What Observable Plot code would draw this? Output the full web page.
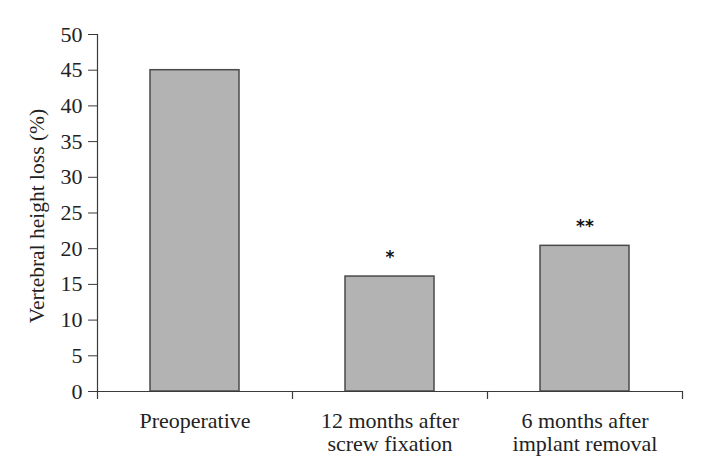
<!DOCTYPE html>
<html>
<head>
<meta charset="utf-8">
<script src="https://cdn.jsdelivr.net/npm/d3@7"></script>
<script src="https://cdn.jsdelivr.net/npm/@observablehq/plot@0.6"></script>
<style>
  html, body { margin: 0; padding: 0; background: #fff; }
</style>
</head>
<body>
<div id="chart"></div>
<script>
const categories = ["Preoperative", "12 months after\nscrew fixation", "6 months after\nimplant removal"];
const values = [45, 16.1, 20.4];
const significance = ["", "*", "**"];
const yTicks = [0, 5, 10, 15, 20, 25, 30, 35, 40, 45, 50];
const yLabel = "Vertebral height loss (%)";

const data = categories.map((c, i) => ({category: c, value: values[i], sig: significance[i]}));

const width = 710, height = 472;
const marginLeft = 97, marginRight = 28, marginTop = 34, marginBottom = 81;
const step = (width - marginLeft - marginRight) / categories.length;
const pad = 0.546;

const axisColor = "#3a3a3a";
const serif = "Liberation Serif, Times New Roman, serif";
const fs = 22;

const chart = Plot.plot({
  width, height, marginLeft, marginRight, marginTop, marginBottom,
  style: {fontFamily: serif, fontSize: fs + "px", color: "#222", background: "#fff"},
  x: {domain: categories, paddingInner: pad, paddingOuter: pad / 2},
  y: {domain: [0, 50]},
  marks: [
    Plot.barY(data, {x: "category", y: "value", fill: "#b3b3b3", stroke: "#4a4a4a", strokeWidth: 1.5}),
    Plot.axisY({ticks: yTicks, tickSize: 9, tickPadding: 6, stroke: axisColor, label: null, fontSize: fs, fontFamily: serif}),
    Plot.axisX({tickSize: 0, tickPadding: 20, label: null, lineHeight: 1.05, fontSize: fs, fontFamily: serif}),
    Plot.text([yLabel], {frameAnchor: "left", textAnchor: "middle", rotate: -90, dx: -60, dy: 3, text: d => d, fontSize: 21.5, fontFamily: serif, fill: "#222"}),
    // left axis line
    Plot.ruleX([categories[0]], {x: d => d, dx: -step / 2, y1: 0, y2: 50, stroke: axisColor, strokeWidth: 1.2}),
    // bottom axis line
    Plot.ruleY([0], {stroke: axisColor, strokeWidth: 1.2}),
    // x ticks at band boundaries (left edges, then right edge of last band)
    Plot.ruleX(categories, {x: d => d, dx: -step / 2, y1: 0, y2: 0, insetBottom: -8, stroke: axisColor, strokeWidth: 1.2}),
    Plot.ruleX([categories[categories.length - 1]], {x: d => d, dx: step / 2, y1: 0, y2: 0, insetBottom: -8, stroke: axisColor, strokeWidth: 1.2}),
    Plot.text(data, {x: "category", y: "value", text: "sig", dy: -19, fontFamily: "DejaVu Sans", fontSize: 17, fontWeight: "bold", fill: "#111"})
  ]
});
document.getElementById("chart").appendChild(chart);
</script>
</body>
</html>
